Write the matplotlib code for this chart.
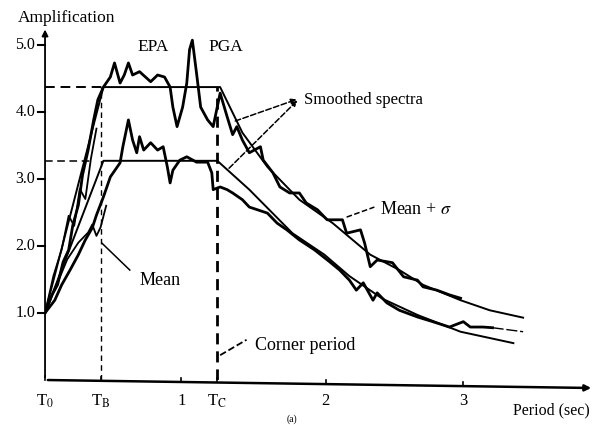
import numpy as np
import matplotlib
matplotlib.use("Agg")
import matplotlib.pyplot as plt

plt.rcParams['font.family'] = ['Liberation Serif', 'DejaVu Serif']
plt.rcParams['mathtext.fontset'] = 'stix'

# mean + sigma spectrum (jagged)
upper_T = [0.00, 0.05, 0.09, 0.13, 0.17, 0.20, 0.24, 0.27, 0.31, 0.35, 0.38, 0.42,
           0.47, 0.50, 0.54, 0.57, 0.60, 0.63, 0.68, 0.76, 0.81, 0.86, 0.90, 0.92,
           0.95, 0.99, 1.02, 1.04, 1.06, 1.09, 1.12, 1.17, 1.21, 1.26, 1.31, 1.35,
           1.38, 1.42, 1.47, 1.55, 1.57, 1.64, 1.69, 1.76, 1.83, 1.88, 1.96, 2.03,
           2.14, 2.17, 2.27, 2.30, 2.34, 2.39, 2.50, 2.58, 2.68, 2.72, 2.82, 2.91, 2.99]
upper_A = [1.00, 1.27, 1.42, 1.76, 1.94, 2.31, 2.61, 3.06, 3.43, 3.88, 4.18, 4.37,
           4.52, 4.73, 4.43, 4.55, 4.73, 4.55, 4.60, 4.45, 4.55, 4.52, 4.37, 4.07,
           3.78, 4.07, 4.43, 4.93, 5.07, 4.58, 4.07, 3.88, 3.78, 4.28, 3.93, 3.66,
           3.78, 3.58, 3.39, 3.48, 3.28, 3.09, 2.88, 2.79, 2.79, 2.64, 2.54, 2.39,
           2.39, 2.19, 2.24, 2.04, 1.69, 1.79, 1.75, 1.54, 1.49, 1.39, 1.34, 1.27, 1.22]

# mean spectrum (jagged)
mean_T = [0.00, 0.07, 0.12, 0.18, 0.24, 0.29, 0.34, 0.37, 0.42, 0.47, 0.54, 0.56,
          0.60, 0.63, 0.66, 0.68, 0.71, 0.76, 0.81, 0.85, 0.88, 0.90, 0.92, 0.97,
          1.02, 1.09, 1.17, 1.20, 1.21, 1.26, 1.31, 1.35, 1.42, 1.47, 1.60, 1.67,
          1.74, 1.83, 1.94, 2.05, 2.12, 2.19, 2.24, 2.29, 2.36, 2.39, 2.46, 2.55,
          2.68, 2.79, 2.91, 3.01, 3.06, 3.15, 3.22]
mean_A = [1.00, 1.19, 1.42, 1.64, 1.87, 2.09, 2.27, 2.46, 2.73, 3.03, 3.24, 3.48,
          3.88, 3.58, 3.39, 3.63, 3.43, 3.54, 3.43, 3.48, 3.18, 2.94, 3.13, 3.28,
          3.33, 3.25, 3.25, 3.09, 2.84, 2.88, 2.84, 2.79, 2.69, 2.58, 2.49, 2.34,
          2.24, 2.09, 1.94, 1.76, 1.64, 1.49, 1.34, 1.45, 1.19, 1.30, 1.15, 1.04,
          0.94, 0.87, 0.79, 0.87, 0.79, 0.79, 0.78]
mean_tail_T = [3.22, 3.44]
mean_tail_A = [0.78, 0.72]

# extra records in the rising branch
rise_T = [0.00, 0.08, 0.16, 0.24, 0.31, 0.34, 0.37, 0.40, 0.44]
rise_A = [1.00, 1.40, 1.80, 2.05, 2.20, 2.32, 2.15, 2.28, 2.60]
rise2_T = [0.00, 0.06, 0.12, 0.17, 0.21, 0.25, 0.29, 0.33, 0.37]
rise2_A = [1.00, 1.55, 1.95, 2.45, 2.30, 2.85, 2.70, 3.30, 3.75]

# smoothed spectra
smooth_up_T = [0.00, 0.42, 1.26, 1.42, 1.60, 1.83, 2.07, 2.34, 2.55, 2.72, 2.99, 3.20, 3.44]
smooth_up_A = [1.00, 4.37, 4.37, 3.69, 3.18, 2.69, 2.34, 1.87, 1.64, 1.42, 1.19, 1.04, 0.93]
smooth_lo_T = [0.00, 0.42, 1.24, 1.47, 1.78, 2.01, 2.19, 2.43, 2.68, 2.99, 3.37]
smooth_lo_A = [1.00, 3.27, 3.27, 2.84, 2.19, 1.87, 1.55, 1.21, 0.97, 0.72, 0.55]

T_B = 0.40
T_C = 1.24
y_ticks = [1.0, 2.0, 3.0, 4.0, 5.0]
y_labels = ['1.0', '2.0', '3.0', '4.0', '5.0']
x_ticks = [0.0, T_B, 0.98, T_C, 2.02, 3.01]
x_labels = ['T$_0$', 'T$_\\mathrm{B}$', '1', 'T$_\\mathrm{C}$', '2', '3']

fig = plt.figure(figsize=(5.98, 4.25), dpi=100)
ax = fig.add_axes([0.0753, 0.1059, 0.911, 0.828])
ax.set_xlim(0, 3.92)
ax.set_ylim(0, 5.25)

ax.plot(upper_T, upper_A, color='black', lw=2.0, solid_joinstyle='round')
ax.plot(mean_T, mean_A, color='black', lw=2.0, solid_joinstyle='round')
ax.plot(mean_tail_T, mean_tail_A, color='black', lw=1.0, ls=(0, (8, 2)))
ax.plot(rise_T, rise_A, color='black', lw=1.3)
ax.plot(rise2_T, rise2_A, color='black', lw=1.3)
ax.plot(smooth_up_T, smooth_up_A, color='black', lw=1.4)
ax.plot(smooth_lo_T, smooth_lo_A, color='black', lw=1.4)

# dashed guide lines
ax.plot([0, smooth_up_T[1]], [smooth_up_A[1]] * 2, color='black', lw=1.4, ls=(0, (5, 3)))
ax.plot([0, 0.32], [smooth_lo_A[1]] * 2, color='black', lw=1.1, ls=(0, (5, 3)))
ax.plot([T_B, T_B], [0, smooth_up_A[1]], color='black', lw=1.0, ls=(0, (4, 3)))
ax.plot([T_C, T_C], [0, smooth_up_A[1]], color='black', lw=2.0, ls=(0, (4, 2.5)))

# axes with arrows
ax.axis('off')
ax.annotate('', xy=(0, 5.27), xytext=(0, 0),
            arrowprops=dict(arrowstyle='-|>', color='black', lw=1.3, mutation_scale=9),
            annotation_clip=False)
ax.annotate('', xy=(3.95, -0.12), xytext=(0, 0),
            arrowprops=dict(arrowstyle='-|>', color='black', lw=1.8, mutation_scale=9),
            annotation_clip=False)
for yt, lab in zip(y_ticks, y_labels):
    ax.plot([-0.05, 0], [yt, yt], color='black', lw=1.5, clip_on=False)
    ax.text(-0.07, yt, lab, ha='right', va='center', fontsize=11.5)
for xt, lab in zip(x_ticks, x_labels):
    ax.plot([xt, xt], [-0.03 * xt, -0.03 * xt + 0.06], color='black', lw=1.2, clip_on=False)
    ax.text(xt, -0.32, lab, ha='center', va='center', fontsize=12)

# annotations
ax.text(0.78, 4.97, 'EPA', ha='center', va='center', fontsize=12.5)
ax.text(1.30, 4.97, 'PGA', ha='center', va='center', fontsize=12.5)
ax.text(1.86, 4.18, 'Smoothed spectra', ha='left', va='center', fontsize=12)
for start in [(1.35, 3.85), (1.31, 3.13)]:
    ax.annotate('', xy=(1.83, 4.20), xytext=start,
                arrowprops=dict(arrowstyle='-|>', color='black', lw=1.1, ls='--',
                                mutation_scale=8))
ax.plot([2.17, 2.37], [2.43, 2.58], color='black', lw=1.1, ls='--')
ax.text(2.41, 2.55, 'Mean + $\\sigma$', ha='left', va='center', fontsize=13)
ax.plot([0.41, 0.61], [2.04, 1.64], color='black', lw=1.1)
ax.text(0.68, 1.49, 'Mean', ha='left', va='center', fontsize=13)
ax.plot([1.26, 1.45], [0.37, 0.60], color='black', lw=1.3, ls='--')
ax.text(1.51, 0.52, 'Corner period', ha='left', va='center', fontsize=13)

fig.text(18 / 598, 1 - 18 / 425, 'Amplification', ha='left', va='center', fontsize=12.5)
fig.text(513 / 598, 1 - 410 / 425, 'Period (sec)', ha='left', va='center', fontsize=11.5)
fig.text(292 / 598, 0.014, '(a)', ha='center', va='center', fontsize=7)

fig.savefig('out.png', dpi=100)
